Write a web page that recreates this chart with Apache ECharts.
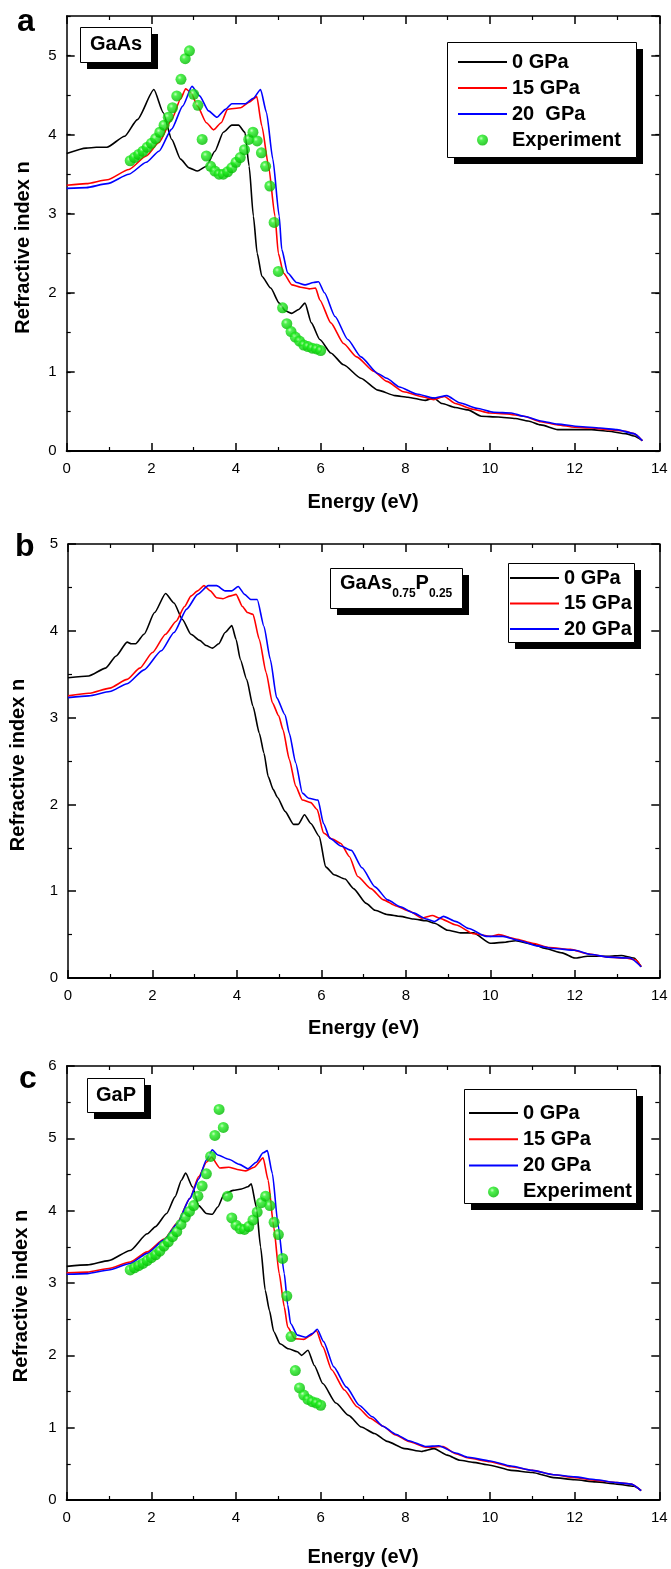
<!DOCTYPE html>
<html>
<head>
<meta charset="utf-8">
<script src="https://cdn.jsdelivr.net/npm/echarts@6/dist/echarts.min.js"></script>
<style>
  html, body { margin: 0; padding: 0; background: #ffffff; }
  #chart { width: 671px; height: 1569px; }
</style>
</head>
<body>
<div id="chart"></div>
<script>
// ---------- Panel (a): GaAs ----------
const gaas0E = [0, 0.46, 0.7, 0.95, 1.37, 1.67, 2.06, 2.28, 2.48, 2.69, 2.89, 3.09, 3.30, 3.5, 3.7, 3.9, 4.06, 4.21, 4.31, 4.41, 4.50, 4.61, 4.82, 5.02, 5.17, 5.32, 5.48, 5.63, 5.78, 5.98, 6.24, 6.54, 6.95, 7.35, 7.76, 8.06, 8.47, 8.67, 8.87, 9.18, 9.48, 9.79, 10.19, 10.6, 10.9, 11.2, 11.6, 12.0, 12.4, 12.8, 13.2, 13.4, 13.6];
const gaas0N = [3.76, 3.83, 3.84, 3.84, 3.98, 4.19, 4.57, 4.28, 3.94, 3.69, 3.58, 3.54, 3.60, 3.79, 4.03, 4.12, 4.12, 4.03, 3.6, 2.97, 2.50, 2.21, 2.06, 1.87, 1.77, 1.74, 1.79, 1.87, 1.62, 1.41, 1.24, 1.09, 0.92, 0.77, 0.70, 0.68, 0.64, 0.67, 0.60, 0.55, 0.52, 0.44, 0.43, 0.41, 0.38, 0.33, 0.27, 0.27, 0.27, 0.25, 0.22, 0.19, 0.13];

const gaas15E = [0, 0.46, 0.96, 1.47, 1.88, 2.18, 2.48, 2.69, 2.81, 2.94, 3.09, 3.30, 3.47, 3.65, 3.80, 4.11, 4.31, 4.49, 4.61, 4.77, 4.92, 5.0, 5.12, 5.32, 5.53, 5.73, 5.88, 5.98, 6.24, 6.54, 6.85, 7.25, 7.56, 7.96, 8.37, 8.67, 8.92, 9.18, 9.58, 9.99, 10.4, 10.8, 11.2, 11.6, 12.0, 12.4, 12.8, 13.2, 13.4, 13.6];
const gaas15N = [3.36, 3.38, 3.43, 3.56, 3.73, 3.90, 4.19, 4.45, 4.58, 4.53, 4.36, 4.15, 4.06, 4.15, 4.32, 4.34, 4.41, 4.48, 4.11, 3.60, 2.97, 2.50, 2.25, 2.10, 2.07, 2.05, 2.06, 1.91, 1.62, 1.36, 1.19, 1.01, 0.88, 0.75, 0.69, 0.65, 0.69, 0.60, 0.53, 0.48, 0.47, 0.44, 0.37, 0.33, 0.30, 0.29, 0.27, 0.25, 0.22, 0.13];

const gaas20E = [0, 0.46, 0.96, 1.47, 1.88, 2.18, 2.48, 2.74, 2.96, 3.14, 3.35, 3.55, 3.75, 3.90, 4.21, 4.41, 4.58, 4.72, 4.87, 5.02, 5.08, 5.22, 5.43, 5.63, 5.83, 5.95, 6.09, 6.34, 6.64, 6.95, 7.35, 7.56, 7.86, 8.27, 8.67, 8.98, 9.28, 9.69, 10.09, 10.5, 10.8, 11.2, 11.6, 12.1, 12.6, 13.0, 13.4, 13.6];
const gaas20N = [3.32, 3.33, 3.38, 3.50, 3.65, 3.79, 4.07, 4.36, 4.61, 4.49, 4.30, 4.22, 4.32, 4.39, 4.39, 4.46, 4.57, 4.28, 3.69, 2.97, 2.55, 2.25, 2.13, 2.10, 2.13, 2.14, 2.0, 1.70, 1.41, 1.19, 0.98, 0.92, 0.81, 0.72, 0.67, 0.70, 0.61, 0.54, 0.49, 0.48, 0.44, 0.38, 0.34, 0.31, 0.29, 0.27, 0.22, 0.13];

const gaasExpE = [1.5, 1.6, 1.7, 1.8, 1.9, 2.0, 2.1, 2.2, 2.3, 2.4, 2.5, 2.6, 2.7, 2.8, 2.9, 3.0, 3.1, 3.2, 3.3, 3.4, 3.5, 3.6, 3.7, 3.8, 3.9, 4.0, 4.1, 4.2, 4.3, 4.4, 4.5, 4.6, 4.7, 4.8, 4.9, 5.0, 5.1, 5.2, 5.3, 5.4, 5.5, 5.6, 5.7, 5.8, 5.9, 6.0];
const gaasExpN = [3.67, 3.71, 3.75, 3.79, 3.84, 3.89, 3.95, 4.03, 4.12, 4.22, 4.34, 4.49, 4.70, 4.96, 5.06, 4.51, 4.37, 3.94, 3.73, 3.60, 3.54, 3.50, 3.50, 3.53, 3.58, 3.65, 3.71, 3.81, 3.94, 4.03, 3.92, 3.77, 3.60, 3.35, 2.89, 2.27, 1.81, 1.61, 1.51, 1.44, 1.39, 1.34, 1.32, 1.30, 1.29, 1.27];

// ---------- Panel (b): GaAs0.75P0.25 ----------
const mix0E = [0, 0.49, 0.89, 1.14, 1.40, 1.5, 1.6, 1.8, 2.05, 2.31, 2.51, 2.71, 2.91, 3.12, 3.27, 3.42, 3.57, 3.72, 3.88, 3.98, 4.08, 4.23, 4.38, 4.53, 4.64, 4.74, 4.86, 4.96, 5.14, 5.34, 5.45, 5.6, 5.75, 5.95, 6.1, 6.3, 6.56, 6.76, 7.06, 7.27, 7.57, 7.87, 8.18, 8.48, 8.68, 8.99, 9.29, 9.6, 10.0, 10.3, 10.6, 11.0, 11.3, 11.7, 12.0, 12.3, 12.8, 13.1, 13.4, 13.57];
const mix0N = [3.46, 3.48, 3.57, 3.71, 3.87, 3.85, 3.85, 3.96, 4.21, 4.43, 4.32, 4.13, 3.96, 3.89, 3.83, 3.80, 3.85, 3.98, 4.06, 3.90, 3.67, 3.44, 3.13, 2.82, 2.59, 2.32, 2.17, 2.08, 1.92, 1.77, 1.77, 1.88, 1.78, 1.63, 1.28, 1.19, 1.14, 1.03, 0.86, 0.78, 0.73, 0.71, 0.68, 0.66, 0.63, 0.55, 0.52, 0.52, 0.40, 0.41, 0.43, 0.39, 0.34, 0.29, 0.23, 0.25, 0.25, 0.26, 0.23, 0.13];

const mix15E = [0, 0.49, 0.99, 1.40, 1.70, 2.0, 2.31, 2.56, 2.76, 2.91, 3.07, 3.22, 3.37, 3.52, 3.67, 3.83, 3.98, 4.13, 4.25, 4.38, 4.53, 4.69, 4.84, 4.99, 5.09, 5.24, 5.39, 5.55, 5.75, 5.9, 6.05, 6.26, 6.46, 6.66, 6.86, 7.17, 7.47, 7.77, 8.08, 8.38, 8.63, 8.79, 9.19, 9.6, 10.0, 10.2, 10.6, 11.0, 11.4, 11.9, 12.3, 12.8, 13.2, 13.44, 13.57];
const mix15N = [3.25, 3.28, 3.34, 3.44, 3.57, 3.75, 3.96, 4.11, 4.28, 4.40, 4.46, 4.52, 4.46, 4.38, 4.37, 4.40, 4.42, 4.28, 4.21, 4.19, 3.90, 3.52, 3.17, 3.02, 2.86, 2.52, 2.21, 2.05, 2.02, 1.94, 1.67, 1.60, 1.55, 1.40, 1.17, 1.03, 0.90, 0.83, 0.77, 0.69, 0.72, 0.69, 0.61, 0.51, 0.48, 0.50, 0.45, 0.40, 0.35, 0.33, 0.28, 0.24, 0.23, 0.21, 0.13];

const mix20E = [0, 0.49, 0.99, 1.40, 1.80, 2.21, 2.51, 2.81, 3.07, 3.32, 3.52, 3.72, 3.88, 4.03, 4.18, 4.33, 4.48, 4.64, 4.79, 4.94, 5.14, 5.24, 5.39, 5.55, 5.70, 5.92, 6.05, 6.2, 6.46, 6.71, 6.96, 7.27, 7.57, 7.87, 8.18, 8.48, 8.68, 8.89, 9.19, 9.49, 9.9, 10.3, 10.7, 11.1, 11.5, 12.0, 12.4, 12.8, 13.3, 13.57];
const mix20N = [3.23, 3.25, 3.30, 3.39, 3.55, 3.77, 3.98, 4.25, 4.42, 4.52, 4.52, 4.46, 4.46, 4.51, 4.42, 4.36, 4.36, 4.05, 3.67, 3.23, 3.03, 2.82, 2.48, 2.13, 2.07, 2.05, 1.78, 1.61, 1.52, 1.47, 1.27, 1.05, 0.90, 0.82, 0.75, 0.68, 0.65, 0.71, 0.65, 0.57, 0.48, 0.48, 0.43, 0.37, 0.34, 0.32, 0.27, 0.24, 0.23, 0.13];

// ---------- Panel (c): GaP ----------
const gap0E = [0, 0.49, 0.99, 1.5, 1.9, 2.1, 2.36, 2.56, 2.71, 2.81, 2.97, 3.12, 3.30, 3.44, 3.57, 3.72, 3.93, 4.13, 4.28, 4.36, 4.48, 4.58, 4.69, 4.79, 4.89, 5.04, 5.24, 5.45, 5.55, 5.7, 5.85, 6.05, 6.36, 6.66, 6.96, 7.27, 7.57, 7.98, 8.38, 8.68, 8.99, 9.29, 9.6, 10.0, 10.5, 11.0, 11.5, 12.0, 12.5, 13.0, 13.4, 13.57];
const gap0N = [3.23, 3.25, 3.31, 3.45, 3.68, 3.78, 3.96, 4.19, 4.42, 4.52, 4.33, 4.07, 3.96, 3.95, 4.05, 4.23, 4.28, 4.30, 4.33, 4.37, 4.05, 3.50, 2.90, 2.62, 2.33, 2.16, 2.09, 2.05, 2.0, 2.07, 1.86, 1.61, 1.34, 1.17, 1.01, 0.92, 0.81, 0.71, 0.67, 0.71, 0.62, 0.55, 0.52, 0.48, 0.41, 0.38, 0.31, 0.28, 0.25, 0.22, 0.19, 0.13];

const gap15E = [0, 0.49, 0.99, 1.5, 1.9, 2.31, 2.61, 2.91, 3.12, 3.30, 3.42, 3.62, 3.83, 4.03, 4.23, 4.43, 4.64, 4.76, 4.89, 5.02, 5.14, 5.22, 5.39, 5.6, 5.75, 5.9, 6.05, 6.26, 6.56, 6.86, 7.17, 7.47, 7.77, 8.08, 8.48, 8.89, 9.19, 9.49, 10.0, 10.5, 11.0, 11.5, 12.0, 12.5, 13.0, 13.34, 13.57];
const gap15N = [3.14, 3.15, 3.20, 3.29, 3.43, 3.61, 3.83, 4.17, 4.47, 4.67, 4.74, 4.59, 4.60, 4.57, 4.55, 4.60, 4.73, 4.42, 3.78, 3.13, 2.67, 2.39, 2.23, 2.22, 2.27, 2.34, 2.12, 1.80, 1.52, 1.29, 1.13, 1.02, 0.90, 0.81, 0.73, 0.74, 0.64, 0.58, 0.53, 0.46, 0.41, 0.35, 0.31, 0.27, 0.24, 0.22, 0.13];

const gap20E = [0, 0.49, 0.99, 1.5, 1.9, 2.31, 2.61, 2.91, 3.12, 3.30, 3.44, 3.57, 3.83, 4.08, 4.28, 4.48, 4.64, 4.74, 4.86, 4.99, 5.14, 5.22, 5.29, 5.45, 5.65, 5.8, 5.92, 6.07, 6.31, 6.61, 6.91, 7.22, 7.47, 7.77, 8.08, 8.48, 8.79, 9.19, 9.49, 10.0, 10.5, 11.0, 11.5, 12.0, 12.5, 13.0, 13.34, 13.57];
const gap20N = [3.12, 3.13, 3.18, 3.27, 3.41, 3.60, 3.82, 4.17, 4.44, 4.70, 4.84, 4.77, 4.71, 4.64, 4.58, 4.67, 4.80, 4.83, 4.51, 3.82, 3.13, 2.70, 2.44, 2.28, 2.25, 2.30, 2.36, 2.19, 1.84, 1.56, 1.31, 1.15, 1.02, 0.91, 0.82, 0.74, 0.75, 0.65, 0.59, 0.54, 0.47, 0.41, 0.35, 0.32, 0.28, 0.24, 0.22, 0.13];

const gapExpE = [1.5, 1.6, 1.7, 1.8, 1.9, 2.0, 2.1, 2.2, 2.3, 2.4, 2.5, 2.6, 2.7, 2.8, 2.9, 3.0, 3.1, 3.2, 3.3, 3.4, 3.5, 3.6, 3.7, 3.8, 3.9, 4.0, 4.1, 4.2, 4.3, 4.4, 4.5, 4.6, 4.7, 4.8, 4.9, 5.0, 5.1, 5.2, 5.3, 5.4, 5.5, 5.6, 5.7, 5.8, 5.9, 6.0];
const gapExpN = [3.18, 3.21, 3.24, 3.27, 3.31, 3.35, 3.39, 3.44, 3.51, 3.57, 3.64, 3.71, 3.81, 3.91, 3.99, 4.07, 4.20, 4.34, 4.51, 4.75, 5.04, 5.40, 5.15, 4.20, 3.90, 3.80, 3.75, 3.74, 3.78, 3.87, 3.98, 4.11, 4.20, 4.07, 3.84, 3.67, 3.34, 2.82, 2.26, 1.79, 1.55, 1.45, 1.39, 1.36, 1.34, 1.31];

// ---------- Axis ranges and texts ----------
const energyRange = [0, 14];
const energyStep = 2;
const indexMax = [5.5, 5, 6];
const panelLetters = ['a', 'b', 'c'];
const legendNames = [
  ['0 GPa', '15 GPa', '20  GPa', 'Experiment'],
  ['0 GPa', '15 GPa', '20 GPa'],
  ['0 GPa', '15 GPa', '20 GPa', 'Experiment']
];
const xTitle = 'Energy (eV)';
const yTitle = 'Refractive index n';

// ---------- Layout / style ----------
const FONT = '"Liberation Sans", Arial, Helvetica, sans-serif';
const gridTop = [16, 544, 1066];
const gridHeight = [435, 434, 434];
const xNameGap = [41, 40, 47];
const yNameGap = [33, 40, 35];
const yNamePad = [[0, 28, 0, 0], [0, 8, 0, 0], [0, 26, 0, 0]];

// framed boxes (legend boxes and sample labels): x, y, width, height
const frames = [
  [447, 42, 189, 115],
  [508, 563, 126, 79],
  [464, 1089, 172, 114],
  [80, 27, 71, 35],
  [330, 568, 132, 40],
  [87, 1078, 57, 34]
];
const SHADOW = 7;

// legend glyph for a curve: a short horizontal bar
const LINE_ICON = 'path://M0,0H49V2H0Z';

const ball = {
  type: 'radial', x: 0.38, y: 0.35, r: 0.65,
  colorStops: [
    { offset: 0, color: '#b8ffae' },
    { offset: 0.3, color: '#22ee22' },
    { offset: 1, color: '#00bb00' }
  ]
};

function zip(E, N) { return E.map((e, k) => [e, N[k]]); }

function lineSeries(name, color, E, N, g) {
  return {
    type: 'line', name, xAxisIndex: g, yAxisIndex: g,
    data: zip(E, N), symbol: 'none', smooth: 0.2, smoothMonotone: 'x',
    lineStyle: { color, width: 1.6 }, itemStyle: { color },
    z: 2, silent: true
  };
}
function expSeries(E, N, g) {
  return {
    type: 'scatter', name: 'Experiment', xAxisIndex: g, yAxisIndex: g,
    data: zip(E, N), symbol: 'circle', symbolSize: 11,
    itemStyle: { color: ball }, z: 3, silent: true
  };
}

const lineSty = (w) => ({ color: '#000', width: w });

function xAxisFor(g, pos) {
  const bottom = pos === 'bottom';
  return {
    type: 'value', gridIndex: g, position: pos,
    min: energyRange[0], max: energyRange[1], interval: energyStep,
    axisLine: { show: true, onZero: false, lineStyle: lineSty(bottom ? 2 : 1.5) },
    axisTick: { show: true, inside: true, length: 8, lineStyle: lineSty(1.5) },
    minorTick: { show: true, splitNumber: 2, length: 4, lineStyle: lineSty(1.2) },
    splitLine: { show: false }, minorSplitLine: { show: false },
    axisLabel: { show: bottom, color: '#000', fontFamily: FONT, fontSize: 15, margin: 10 },
    name: bottom ? xTitle : '', nameLocation: 'middle', nameGap: xNameGap[g],
    nameTextStyle: { color: '#000', fontFamily: FONT, fontSize: 20, fontWeight: 'bold' }
  };
}

function yAxisFor(g, pos) {
  const left = pos === 'left';
  const halfMax = indexMax[g] % 1 !== 0;
  return {
    type: 'value', gridIndex: g, position: pos,
    min: 0, max: indexMax[g], interval: 1,
    axisLine: { show: true, onZero: false, lineStyle: lineSty(1.5) },
    axisTick: { show: true, inside: true, length: 8, lineStyle: lineSty(1.5) },
    minorTick: { show: !halfMax, splitNumber: 2, length: 4, lineStyle: lineSty(1.2) },
    splitLine: { show: false }, minorSplitLine: { show: false },
    axisLabel: { show: left, color: '#000', fontFamily: FONT, fontSize: 15, margin: 10, showMaxLabel: !halfMax },
    name: left ? yTitle : '', nameLocation: 'middle', nameGap: yNameGap[g],
    nameTextStyle: { color: '#000', fontFamily: FONT, fontSize: 20, fontWeight: 'bold', padding: yNamePad[g] }
  };
}

// half-unit ticks for a range that ends between integers
function yHalfTicks(g, pos) {
  return {
    type: 'value', gridIndex: g, position: pos,
    min: 0, max: indexMax[g], interval: 0.5,
    axisLine: { show: false, onZero: false },
    axisTick: { show: true, inside: true, length: 4, lineStyle: lineSty(1.2) },
    axisLabel: { show: false }, splitLine: { show: false }
  };
}

const legendText = { color: '#000', fontFamily: FONT, fontSize: 20, fontWeight: 'bold', lineHeight: 20 };

function legendFor(g, left, top, padding, gap) {
  const data = legendNames[g].map((name) =>
    name === 'Experiment' ? { name, icon: 'circle' } : { name, icon: LINE_ICON });
  return {
    orient: 'vertical', left, top, padding, itemGap: gap,
    itemWidth: 49, itemHeight: 11, selectedMode: false,
    backgroundColor: 'transparent', borderWidth: 0,
    data, textStyle: legendText
  };
}

const letterStyle = { color: '#000', fontFamily: FONT, fontSize: 32, fontWeight: 'bold', lineHeight: 32 };
const labelStyle = { color: '#000', fontFamily: FONT, fontSize: 20, fontWeight: 'bold', lineHeight: 20 };

// black drop shadow + white framed box behind each legend / label
const frameGraphics = [];
frames.forEach(([x, y, w, h]) => {
  frameGraphics.push({
    type: 'rect', z: 3, silent: true,
    shape: { x: x + SHADOW, y: y + SHADOW, width: w, height: h },
    style: { fill: '#000' }
  });
  frameGraphics.push({
    type: 'rect', z: 3, silent: true,
    shape: { x: x + 0.5, y: y + 0.5, width: w, height: h },
    style: { fill: '#fff', stroke: '#000', lineWidth: 1 }
  });
});

const option = {
  animation: false,
  backgroundColor: '#fff',
  grid: gridTop.map((t, g) => ({ left: 66.7, right: 11.7, top: t, height: gridHeight[g], containLabel: false })),
  xAxis: [
    xAxisFor(0, 'bottom'), xAxisFor(1, 'bottom'), xAxisFor(2, 'bottom'),
    xAxisFor(0, 'top'), xAxisFor(1, 'top'), xAxisFor(2, 'top')
  ],
  yAxis: [
    yAxisFor(0, 'left'), yAxisFor(1, 'left'), yAxisFor(2, 'left'),
    yAxisFor(0, 'right'), yAxisFor(1, 'right'), yAxisFor(2, 'right'),
    yHalfTicks(0, 'left'), yHalfTicks(0, 'right')
  ],
  graphic: { elements: frameGraphics },
  title: [
    { text: panelLetters[0], left: 17, top: 6, padding: 0, textStyle: letterStyle },
    { text: panelLetters[1], left: 15, top: 531, padding: 0, textStyle: letterStyle },
    { text: panelLetters[2], left: 19, top: 1063, padding: 0, textStyle: letterStyle },
    { text: 'GaAs', left: 80, top: 27, padding: [7, 9, 8, 10], textStyle: labelStyle },
    {
      text: '{m|GaAs}{s|0.75}{m|P}{s|0.25}', left: 330, top: 568, padding: [5, 10, 8, 10],
      textStyle: {
        color: '#000', fontFamily: FONT, fontWeight: 'bold',
        rich: {
          m: { fontFamily: FONT, fontSize: 20, fontWeight: 'bold', lineHeight: 22, verticalAlign: 'top', color: '#000' },
          s: { fontFamily: FONT, fontSize: 12, fontWeight: 'bold', lineHeight: 12, padding: [15, 0, 0, 0], verticalAlign: 'top', color: '#000' }
        }
      }
    },
    { text: 'GaP', left: 87, top: 1078, padding: [7, 8, 7, 9], textStyle: labelStyle }
  ],
  legend: [
    legendFor(0, 447, 42, [10, 14, 7, 11], 6),
    legendFor(1, 508, 563, [5, 2, 3, 2], 5.5),
    legendFor(2, 464, 1089, [14, 4, 1, 5], 6.3)
  ],
  series: [
    lineSeries('0 GPa', '#000000', gaas0E, gaas0N, 0),
    lineSeries('15 GPa', '#ff0000', gaas15E, gaas15N, 0),
    lineSeries('20  GPa', '#0000ff', gaas20E, gaas20N, 0),
    expSeries(gaasExpE, gaasExpN, 0),

    lineSeries('0 GPa', '#000000', mix0E, mix0N, 1),
    lineSeries('15 GPa', '#ff0000', mix15E, mix15N, 1),
    lineSeries('20 GPa', '#0000ff', mix20E, mix20N, 1),

    lineSeries('0 GPa', '#000000', gap0E, gap0N, 2),
    lineSeries('15 GPa', '#ff0000', gap15E, gap15N, 2),
    lineSeries('20 GPa', '#0000ff', gap20E, gap20N, 2),
    expSeries(gapExpE, gapExpN, 2)
  ]
};

const chart = echarts.init(document.getElementById('chart'), null, { renderer: 'canvas' });
chart.setOption(option);
</script>
</body>
</html>
